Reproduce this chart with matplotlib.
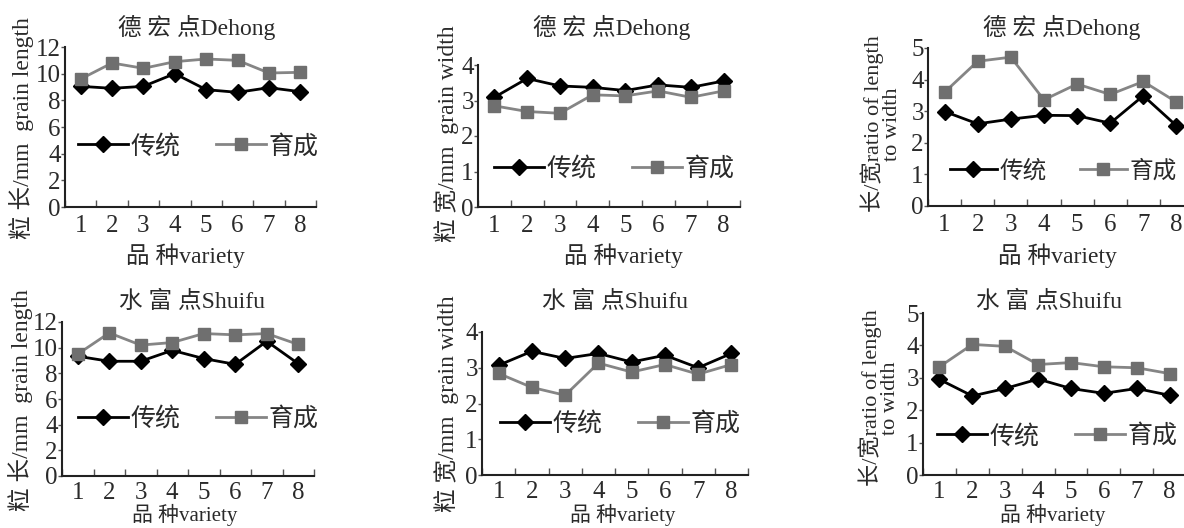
import matplotlib.pyplot as plt
import numpy as np

# font list: serif for latin, CJK fallback for chinese
FONT = ['Liberation Serif', 'Noto Sans CJK SC']
plt.rcParams['font.family'] = FONT

varieties = [1, 2, 3, 4, 5, 6, 7, 8]
series_names = ['传统', '育成']

# 德宏 Dehong
dh_length_trad = [9.05, 8.9, 9.05, 10.0, 8.8, 8.6, 8.95, 8.65]
dh_length_bred = [9.6, 10.8, 10.4, 10.9, 11.1, 11.0, 10.05, 10.1]
dh_width_trad = [3.09, 3.62, 3.41, 3.37, 3.28, 3.44, 3.37, 3.55]
dh_width_bred = [2.85, 2.69, 2.64, 3.16, 3.13, 3.27, 3.09, 3.27]
dh_ratio_trad = [2.99, 2.6, 2.75, 2.87, 2.86, 2.62, 3.49, 2.54]
dh_ratio_bred = [3.6, 4.58, 4.71, 3.36, 3.86, 3.53, 3.94, 3.29]

# 水富 Shuifu
sf_length_trad = [9.33, 8.94, 8.94, 9.79, 9.15, 8.7, 10.5, 8.75]
sf_length_bred = [9.5, 11.15, 10.2, 10.4, 11.1, 11.0, 11.1, 10.25]
sf_width_trad = [3.07, 3.46, 3.26, 3.40, 3.16, 3.35, 3.0, 3.40]
sf_width_bred = [2.84, 2.45, 2.23, 3.13, 2.88, 3.09, 2.82, 3.09]
sf_ratio_trad = [2.95, 2.44, 2.67, 2.96, 2.67, 2.52, 2.67, 2.46]
sf_ratio_bred = [3.34, 4.03, 3.97, 3.41, 3.47, 3.34, 3.31, 3.13]

titles = ['德 宏 点Dehong'] * 3 + ['水 富 点Shuifu'] * 3
ylabels = ['粒 长/mm  grain length', '粒 宽/mm  grain width', '长/宽ratio of length\nto width'] * 2
xlabel = '品 种variety'
ymax = [12, 4, 5, 12, 4, 5]
ystep = [2, 1, 1, 2, 1, 1]

W, H = 1184, 528
# panel boxes in pixels: left, top, right, bottom
boxes = [(65, 47, 316, 207), (478, 65, 740, 207), (928, 48, 1193, 206),
         (62, 322, 314, 476), (482, 332, 748, 475), (923, 313, 1186, 475)]
title_pos = [(197, 27), (612, 27), (1062, 27), (192, 302), (615, 302), (1049, 302)]
xlabel_pos = [(185, 256), (623, 256), (1057, 256), (185, 515), (623, 515), (1053, 515)]
ylabel_pos = [(22, 128), (447, 134), (881, 124), (21, 400), (447, 404), (879, 398)]
legend_pos = [(0.53, 0.38), (0.52, 0.27), (0.51, 0.22), (0.54, 0.37), (0.52, 0.36), (0.51, 0.24)]

data = [(dh_length_trad, dh_length_bred), (dh_width_trad, dh_width_bred), (dh_ratio_trad, dh_ratio_bred),
        (sf_length_trad, sf_length_bred), (sf_width_trad, sf_width_bred), (sf_ratio_trad, sf_ratio_bred)]

TXT = '#2a2a2a'
fig = plt.figure(figsize=(W / 100, H / 100), dpi=100)

for i in range(6):
    l, t, r, b = boxes[i]
    ax = fig.add_axes([l / W, 1 - b / H, (r - l) / W, (b - t) / H])
    trad, bred = data[i]
    ax.plot(varieties, trad, color='black', lw=2, marker='D', ms=8.5, mfc='black', mec='black', label=series_names[0])
    ax.plot(varieties, bred, color='#858585', lw=2, marker='s', ms=8, mfc='#6f6f6f', mec='#6f6f6f', label=series_names[1])

    ax.set_xlim(0.5, 8.5)
    ax.set_ylim(0, ymax[i])
    ax.set_xticks(varieties)
    ax.set_xticks(np.arange(0.5, 9, 1), minor=True)
    ax.set_yticks(np.arange(0, ymax[i] + 0.1, ystep[i]))
    ax.tick_params(axis='x', which='major', length=0, pad=6 if i < 3 else 4, labelsize=18, labelcolor=TXT)
    ax.tick_params(axis='x', which='minor', direction='in', length=5, width=1, color='#555')
    ax.tick_params(axis='y', direction='out', length=3, width=1, pad=0, labelsize=18, labelcolor=TXT, color='#555')
    for s in ['top', 'right']:
        ax.spines[s].set_visible(False)
    for s in ['left', 'bottom']:
        ax.spines[s].set_linewidth(1.5)
        ax.spines[s].set_color('#222')

    ax.legend(loc='center', bbox_to_anchor=legend_pos[i], ncol=2, frameon=False, fontsize=18 if i != 2 else 17,
              handlelength=2.0, handletextpad=0.1, columnspacing=1.4, labelcolor=TXT)

    fig.text(title_pos[i][0] / W, 1 - title_pos[i][1] / H, titles[i], ha='center', va='center',
             fontsize=17, color=TXT)
    fig.text(xlabel_pos[i][0] / W, 1 - xlabel_pos[i][1] / H, xlabel, ha='center', va='center',
             fontsize=17 if i < 3 else 15, color=TXT)
    fig.text(ylabel_pos[i][0] / W, 1 - ylabel_pos[i][1] / H, ylabels[i], ha='center', va='center',
             rotation=90, fontsize=17 if i % 3 != 2 else 16, color=TXT, linespacing=0.95)

fig.savefig('out.png', dpi=100, facecolor='white')
